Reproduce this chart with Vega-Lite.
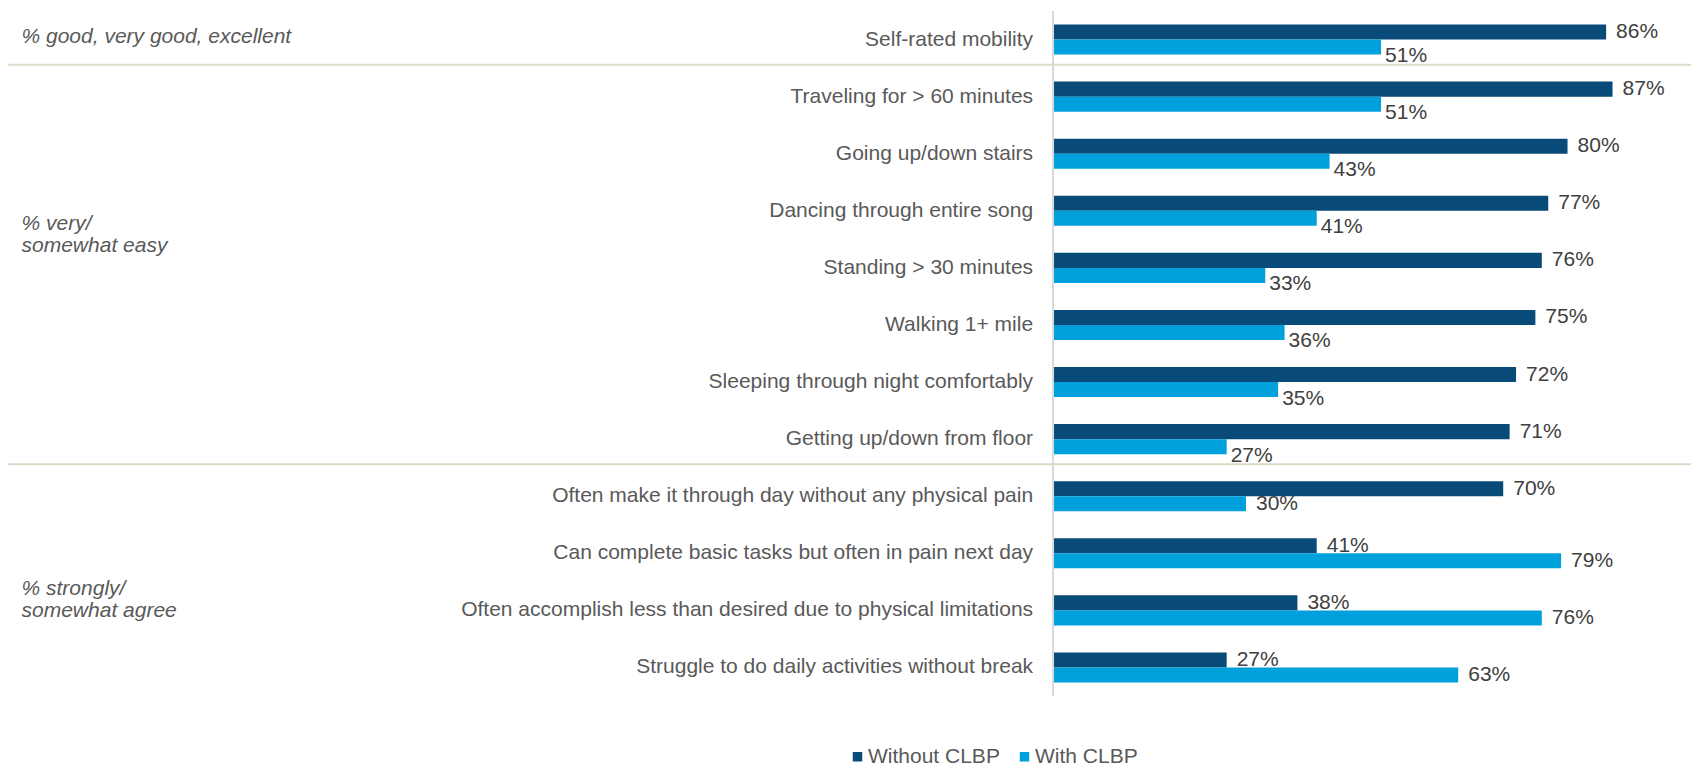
{
  "$schema": "https://vega.github.io/schema/vega-lite/v6.json",
  "width": 1683,
  "height": 685,
  "autosize": {"type": "none"},
  "padding": {"left": 8, "top": 11, "right": 0, "bottom": 70},
  "background": "white",
  "config": {"view": {"stroke": null}, "font": "Liberation Sans"},
  "datasets": {
    "rows": [
      {"cat": "Self-rated mobility", "section": "good", "series": "Without CLBP", "value": 86},
      {"cat": "Self-rated mobility", "section": "good", "series": "With CLBP", "value": 51},
      {"cat": "Traveling for > 60 minutes", "section": "easy", "series": "Without CLBP", "value": 87},
      {"cat": "Traveling for > 60 minutes", "section": "easy", "series": "With CLBP", "value": 51},
      {"cat": "Going up/down stairs", "section": "easy", "series": "Without CLBP", "value": 80},
      {"cat": "Going up/down stairs", "section": "easy", "series": "With CLBP", "value": 43},
      {"cat": "Dancing through entire song", "section": "easy", "series": "Without CLBP", "value": 77},
      {"cat": "Dancing through entire song", "section": "easy", "series": "With CLBP", "value": 41},
      {"cat": "Standing > 30 minutes", "section": "easy", "series": "Without CLBP", "value": 76},
      {"cat": "Standing > 30 minutes", "section": "easy", "series": "With CLBP", "value": 33},
      {"cat": "Walking 1+ mile", "section": "easy", "series": "Without CLBP", "value": 75},
      {"cat": "Walking 1+ mile", "section": "easy", "series": "With CLBP", "value": 36},
      {"cat": "Sleeping through night comfortably", "section": "easy", "series": "Without CLBP", "value": 72},
      {"cat": "Sleeping through night comfortably", "section": "easy", "series": "With CLBP", "value": 35},
      {"cat": "Getting up/down from floor", "section": "easy", "series": "Without CLBP", "value": 71},
      {"cat": "Getting up/down from floor", "section": "easy", "series": "With CLBP", "value": 27},
      {"cat": "Often make it through day without any physical pain", "section": "agree", "series": "Without CLBP", "value": 70},
      {"cat": "Often make it through day without any physical pain", "section": "agree", "series": "With CLBP", "value": 30},
      {"cat": "Can complete basic tasks but often in pain next day", "section": "agree", "series": "Without CLBP", "value": 41},
      {"cat": "Can complete basic tasks but often in pain next day", "section": "agree", "series": "With CLBP", "value": 79},
      {"cat": "Often accomplish less than desired due to physical limitations", "section": "agree", "series": "Without CLBP", "value": 38},
      {"cat": "Often accomplish less than desired due to physical limitations", "section": "agree", "series": "With CLBP", "value": 76},
      {"cat": "Struggle to do daily activities without break", "section": "agree", "series": "Without CLBP", "value": 27},
      {"cat": "Struggle to do daily activities without break", "section": "agree", "series": "With CLBP", "value": 63}
    ],
    "groups": [
      {"name": "good", "cat": "Self-rated mobility", "label": ["% good, very good, excellent"]},
      {"name": "easy", "cat": "Dancing through entire song", "label": ["% very/", "somewhat easy"]},
      {"name": "agree", "cat": "Often accomplish less than desired due to physical limitations", "label": ["% strongly/", "somewhat agree"]}
    ],
    "separators": [
      {"cat": "Traveling for > 60 minutes"},
      {"cat": "Often make it through day without any physical pain"}
    ],
    "axisline": [{"zero": 0}]
  },
  "layer": [
    {
      "data": {"name": "rows"},
      "mark": {"type": "bar"},
      "encoding": {
        "y": {
          "field": "cat",
          "type": "nominal",
          "axis": null,
          "scale": {
            "domain": [
              "Self-rated mobility",
              "Traveling for > 60 minutes",
              "Going up/down stairs",
              "Dancing through entire song",
              "Standing > 30 minutes",
              "Walking 1+ mile",
              "Sleeping through night comfortably",
              "Getting up/down from floor",
              "Often make it through day without any physical pain",
              "Can complete basic tasks but often in pain next day",
              "Often accomplish less than desired due to physical limitations",
              "Struggle to do daily activities without break"
            ],
            "paddingInner": 0,
            "paddingOuter": 0
          }
        },
        "x": {
          "field": "value",
          "type": "quantitative",
          "axis": null,
          "scale": {"domain": [-162.5, 99.2], "nice": false, "zero": false}
        },
        "x2": {"datum": 0},
        "yOffset": {
          "field": "series",
          "type": "nominal",
          "scale": {"domain": ["Without CLBP", "With CLBP"], "paddingInner": 0, "paddingOuter": 0.9}
        },
        "color": {
          "field": "series",
          "type": "nominal",
          "scale": {"domain": ["Without CLBP", "With CLBP"], "range": ["#084a78", "#00a0dc"]},
          "legend": {
            "title": null,
            "orient": "none",
            "direction": "horizontal",
            "legendX": 839,
            "legendY": 735,
            "symbolType": "square",
            "symbolSize": 90,
            "symbolStrokeWidth": 0,
            "labelFontSize": 21,
            "labelColor": "#595959",
            "labelOffset": 0,
            "columnPadding": 14
          }
        }
      }
    },
    {
      "data": {"name": "separators"},
      "mark": {"type": "rule", "color": "#dedac8", "strokeWidth": 2},
      "encoding": {
        "y": {"field": "cat", "type": "nominal", "bandPosition": -0.06}
      }
    },
    {
      "data": {"name": "axisline"},
      "mark": {"type": "rule", "color": "#d9d9d9", "strokeWidth": 2},
      "encoding": {
        "x": {"field": "zero", "type": "quantitative"}
      }
    },
    {
      "data": {"name": "rows"},
      "transform": [
        {"filter": "datum.series == 'Without CLBP'"},
        {"calculate": "datum.value + '%'", "as": "label"}
      ],
      "mark": {"type": "text", "align": "left", "baseline": "middle", "dx": 10, "fontSize": 21, "color": "#404040"},
      "encoding": {
        "y": {"field": "cat", "type": "nominal"},
        "x": {"field": "value", "type": "quantitative"},
        "yOffset": {"field": "series", "type": "nominal"},
        "text": {"field": "label"}
      }
    },
    {
      "data": {"name": "rows"},
      "transform": [
        {"filter": "datum.series == 'With CLBP' && datum.section != 'agree'"},
        {"calculate": "datum.value + '%'", "as": "label"}
      ],
      "mark": {"type": "text", "align": "left", "baseline": "middle", "dx": 4, "dy": 9, "fontSize": 21, "color": "#404040"},
      "encoding": {
        "y": {"field": "cat", "type": "nominal"},
        "x": {"field": "value", "type": "quantitative"},
        "yOffset": {"field": "series", "type": "nominal"},
        "text": {"field": "label"}
      }
    },
    {
      "data": {"name": "rows"},
      "transform": [
        {"filter": "datum.series == 'With CLBP' && datum.section == 'agree'"},
        {"calculate": "datum.value + '%'", "as": "label"}
      ],
      "mark": {"type": "text", "align": "left", "baseline": "middle", "dx": 10, "fontSize": 21, "color": "#404040"},
      "encoding": {
        "y": {"field": "cat", "type": "nominal"},
        "x": {"field": "value", "type": "quantitative"},
        "yOffset": {"field": "series", "type": "nominal"},
        "text": {"field": "label"}
      }
    },
    {
      "data": {"name": "rows"},
      "transform": [{"filter": "datum.series == 'Without CLBP'"}],
      "mark": {"type": "text", "align": "right", "baseline": "middle", "fontSize": 21, "color": "#595959"},
      "encoding": {
        "y": {"field": "cat", "type": "nominal"},
        "x": {"datum": -3.1},
        "text": {"field": "cat"}
      }
    },
    {
      "data": {"name": "groups"},
      "transform": [{"filter": "datum.name == 'good'"}],
      "mark": {"type": "text", "align": "left", "baseline": "middle", "fontSize": 21, "fontStyle": "italic", "color": "#595959", "lineHeight": 22},
      "encoding": {
        "x": {"datum": -160.4},
        "y": {"field": "cat", "type": "nominal", "bandPosition": 0.46},
        "text": {"field": "label"}
      }
    },
    {
      "data": {"name": "groups"},
      "transform": [{"filter": "datum.name == 'easy'"}],
      "mark": {"type": "text", "align": "left", "baseline": "middle", "fontSize": 21, "fontStyle": "italic", "color": "#595959", "lineHeight": 22},
      "encoding": {
        "x": {"datum": -160.4},
        "y": {"field": "cat", "type": "nominal", "bandPosition": 0.73},
        "text": {"field": "label"}
      }
    },
    {
      "data": {"name": "groups"},
      "transform": [{"filter": "datum.name == 'agree'"}],
      "mark": {"type": "text", "align": "left", "baseline": "middle", "fontSize": 21, "fontStyle": "italic", "color": "#595959", "lineHeight": 22},
      "encoding": {
        "x": {"datum": -160.4},
        "y": {"field": "cat", "type": "nominal", "bandPosition": 0.125},
        "text": {"field": "label"}
      }
    }
  ]
}
